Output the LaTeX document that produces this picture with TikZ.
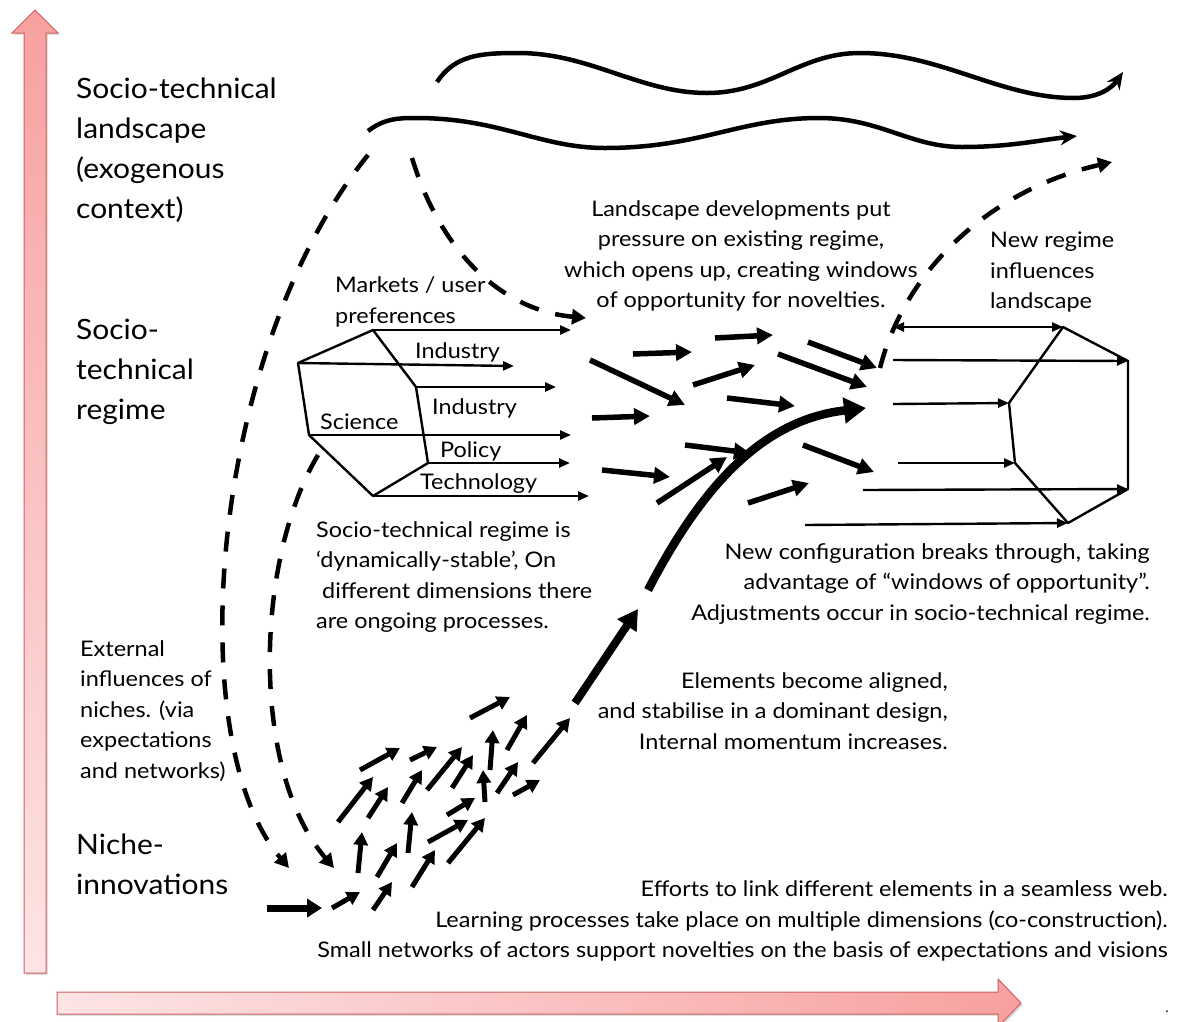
\documentclass[tikz,border=0pt]{standalone}
\usepackage{fontspec}
\setmainfont{Lato}
\newfontfamily\midfont{Lato}[FakeStretch=1.09]
\newfontfamily\bigfont{Lato}[FakeStretch=1.07]
\usetikzlibrary{arrows.meta,shadows}
\begin{document}
\begin{tikzpicture}[x=1pt,y=-1pt,
  thinarr/.style={line width=2.4pt,-{Triangle[length=11pt,width=9pt]}},
  midarr/.style={line width=5.5pt,-{Triangle[length=16pt,width=16pt]}},
  nicharr/.style={line width=5pt,-{Triangle[length=13pt,width=14pt]}},
  dasharr/.style={line width=4.5pt,dash pattern=on 20pt off 17pt,-{Triangle[length=14pt,width=15pt]}},
  wavearr/.style={line width=4.5pt,-{Stealth[length=17pt,width=15pt]}},
  hexline/.style={line width=2.4pt,line join=round},
  bigtxt/.style={font=\bigfont\fontsize{28}{40}\selectfont,inner sep=0pt},
  midtxt/.style={font=\midfont\fontsize{21.5}{30.5}\selectfont,inner sep=0pt},
  pinkdraw/.style={draw={rgb,255:red,205;green,95;blue,95},line width=1pt,
    drop shadow={opacity=0.25,shadow xshift=2pt,shadow yshift=-2pt}}
]
\useasboundingbox (0,0) rectangle (1181,1021);
\fill[white] (0,0) rectangle (1181,1021);

% axes
\shadedraw[pinkdraw,top color={rgb,255:red,248;green,160;blue,160},bottom color={rgb,255:red,253;green,228;blue,229}]
  (24,973) -- (24,33) -- (12,33) -- (35,10) -- (58,33) -- (46,33) -- (46,973) -- cycle;
\shadedraw[pinkdraw,left color={rgb,255:red,253;green,228;blue,229},right color={rgb,255:red,248;green,160;blue,160}]
  (57,992) -- (998,992) -- (998,979) -- (1021,1003) -- (998,1027) -- (998,1014) -- (57,1014) -- cycle;
\node[inner sep=0pt,font=\fontsize{14}{14}\selectfont] (dot) at (1167,1012) {.};

% left labels
\node[bigtxt,anchor=west,align=left] (landlbl) at (76,150) {Socio-technical\\landscape\\(exogenous\\context)};
\node[bigtxt,anchor=west,align=left] (reglbl) at (76,372) {Socio-\\technical\\regime};
\node[bigtxt,anchor=west,align=left] (nichelbl) at (76,864) {Niche-\\innovations};
\node[midtxt,anchor=west,align=left] (extlbl) at (80,711) {External\\influences of\\niches. (via\\expectations\\and networks)};

% waves
\coordinate (w1s) at (437,82);
\coordinate (w1e) at (1123,72);
\draw[wavearr] (w1s) .. controls (455,55) and (480,53) .. (518,53)
  .. controls (590,53) and (640,93) .. (707,93)
  .. controls (770,93) and (800,53) .. (860,53)
  .. controls (940,53) and (1000,98) .. (1074,98)
  .. controls (1098,98) and (1112,88) .. (w1e);
\coordinate (w2s) at (368,131);
\coordinate (w2e) at (1077,136);
\draw[wavearr] (w2s) .. controls (385,118) and (400,118) .. (416,118)
  .. controls (500,118) and (540,148) .. (605,148)
  .. controls (700,148) and (740,118) .. (819,118)
  .. controls (880,118) and (910,147) .. (962,147)
  .. controls (1010,147) and (1040,140) .. (w2e);

% dashed influences
\coordinate (d1s) at (368,155); \coordinate (d1e) at (289,868);
\draw[dasharr] (d1s) .. controls (210,350) and (180,740) .. (d1e);
\coordinate (d2s) at (318,455); \coordinate (d2e) at (334,868);
\draw[dasharr] (d2s) .. controls (255,560) and (250,770) .. (d2e);
\coordinate (d3s) at (412,158); \coordinate (d3e) at (586,318);
\draw[dasharr] (d3s) .. controls (440,250) and (500,310) .. (d3e);
\coordinate (d4s) at (880,368); \coordinate (d4e) at (1112,162);
\draw[dasharr] (d4s) .. controls (905,270) and (990,190) .. (d4e);

% regime hexagon (left)
\coordinate (hT) at (373,330); \coordinate (hLT) at (298,363);
\coordinate (hLB) at (309,435); \coordinate (hB) at (373,496);
\coordinate (hRB) at (428,463); \coordinate (hRT) at (416,387);
\draw[hexline] (hT) -- (hLT) -- (hLB) -- (hB) -- (hRB) -- (hRT) -- cycle;
\coordinate (eT) at (571,330); \coordinate (eLT) at (514,366);
\coordinate (eRT) at (556,387); \coordinate (eLB) at (571,435);
\coordinate (eRB) at (570,463); \coordinate (eB) at (589,496);
\draw[thinarr] (hT) -- (eT);
\draw[thinarr] (hLT) -- (eLT);
\draw[thinarr] (hRT) -- (eRT);
\draw[thinarr] (hLB) -- (eLB);
\draw[thinarr] (hRB) -- (eRB);
\draw[thinarr] (hB) -- (eB);
\node[midtxt,anchor=west,align=left] (mkt) at (335,302) {Markets / user\\preferences};
\node[midtxt,anchor=west] (ind1) at (415,352) {Industry};
\node[midtxt,anchor=west] (ind2) at (432,408) {Industry};
\node[midtxt,anchor=west] (sci) at (320,422) {Science};
\node[midtxt,anchor=west] (pol) at (440,451) {Policy};
\node[midtxt,anchor=west] (tech) at (420,484) {Technology};

% right hexagon
\coordinate (gT) at (1063,327); \coordinate (gRT) at (1128,361);
\coordinate (gRB) at (1128,489); \coordinate (gB) at (1068,523);
\coordinate (gLB) at (1015,463); \coordinate (gLT) at (1009,403);
\draw[hexline] (gT) -- (gRT) -- (gRB) -- (gB) -- (gLB) -- (gLT) -- cycle;
\coordinate (r1) at (893,327); \coordinate (r2) at (893,360);
\coordinate (r3) at (893,404); \coordinate (r4) at (898,463);
\coordinate (r5) at (863,490); \coordinate (r6) at (805,525);
\draw[line width=2.4pt,{Triangle[length=11pt,width=9pt]}-{Triangle[length=11pt,width=9pt]}] (r1) -- (gT);
\draw[thinarr] (r2) -- (gRT);
\draw[thinarr] (r3) -- (gLT);
\draw[thinarr] (r4) -- (gLB);
\draw[thinarr] (r5) -- (gRB);
\draw[thinarr] (r6) -- (gB);

% middle arrows
\foreach \n/\sx/\sy/\ex/\ey in {
  1/633/354/692/352, 2/715/338/773/335, 3/808/342/877/368,
  4/590/360/685/405, 5/693/385/755/365, 6/778/354/867/387,
  7/727/398/795/406, 8/592/418/650/416, 9/685/445/750/453,
  10/657/503/727/457, 11/602/470/670/477, 12/748/503/809/483,
  13/803/445/874/472}{
  \coordinate (ms\n) at (\sx,\sy); \coordinate (me\n) at (\ex,\ey);
  \draw[midarr] (ms\n) -- (me\n);
}

% niche arrows
\foreach \n/\sx/\sy/\ex/\ey in {
  2/332/908/360/892, 3/373/910/392/882, 4/358/873/362/832,
  5/377/877/397/843, 6/412/887/435/850, 7/448/863/485/818,
  8/428/842/468/820, 9/408/853/412/812, 10/447/815/475/798,
  11/338/822/373/777, 12/368/818/388/787, 13/402/803/422/770,
  14/360/770/400/748, 15/410/760/437/747, 16/427/790/462/747,
  17/452/788/473/755, 18/485/802/483/770, 19/497/793/518/762,
  20/490/770/493/730, 21/507/750/527/715, 22/470/718/510/697,
  23/513/795/540/780, 24/533/763/570/718}{
  \coordinate (ns\n) at (\sx,\sy); \coordinate (ne\n) at (\ex,\ey);
  \draw[nicharr] (ns\n) -- (ne\n);
}
\coordinate (ns1) at (267,908); \coordinate (ne1) at (322,908);
\draw[line width=7pt,-{Triangle[length=15pt,width=18pt]}] (ns1) -- (ne1);

% main trajectory
\coordinate (bs) at (575,703); \coordinate (be) at (638,609);
\draw[line width=8pt,-{Triangle[length=20pt,width=22pt]}] (bs) -- (be);
\coordinate (cs) at (648,590); \coordinate (ce) at (866,408);
\draw[line width=8.5pt,-{Triangle[length=22pt,width=25pt]}] (cs) .. controls (700,490) and (760,420) .. (ce);

% texts
\node[midtxt,align=center] (landtxt) at (741,256) {Landscape developments put\\pressure on existing regime,\\which opens up, creating windows\\of opportunity for novelties.};
\node[midtxt,anchor=west,align=left] (newreg) at (990,272) {New regime\\influences\\landscape};
\node[midtxt,anchor=west,align=left] (stable) at (316,577) {Socio-technical regime is\\‘dynamically-stable’, On\\\ different dimensions there\\are ongoing processes.};
\node[midtxt,anchor=east,align=right] (newconf) at (1150,584) {New configuration breaks through, taking\\advantage of “windows of opportunity”.\\Adjustments occur in socio-technical regime.};
\node[midtxt,anchor=east,align=right] (elem) at (948,711) {Elements become aligned,\\and stabilise in a dominant design,\\Internal momentum increases.};
\node[midtxt,anchor=east,align=right] (effort) at (1168,921) {Efforts to link different elements in a seamless web.\\Learning processes take place on multiple dimensions (co-construction).\\Small networks of actors support novelties on the basis of expectations and visions};
\end{tikzpicture}
\end{document}
